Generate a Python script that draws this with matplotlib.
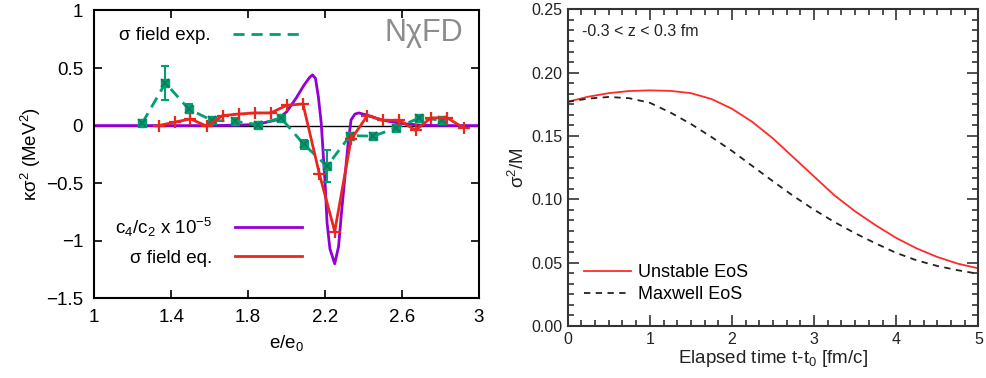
import numpy as np
import matplotlib
matplotlib.use("Agg")
import matplotlib.pyplot as plt
from matplotlib.lines import Line2D
from matplotlib.ticker import FixedLocator, FuncFormatter, FormatStrFormatter, AutoMinorLocator

plt.rcParams['font.family'] = ['Liberation Sans', 'DejaVu Sans']
plt.rcParams['mathtext.default'] = 'regular'

# ---- left panel data ----
# sigma field exp. (green, with error bars)
exp_x = [1.25, 1.37, 1.49, 1.61, 1.73, 1.85, 1.97, 2.09, 2.21, 2.33, 2.45, 2.57, 2.69, 2.81]
exp_y = [0.023, 0.37, 0.145, 0.046, 0.037, 0.009, 0.067, -0.164, -0.352, -0.087, -0.092, -0.02, 0.067, 0.046]
exp_err = [0.02, 0.15, 0.04, 0.02, 0.02, 0.02, 0.02, 0.04, 0.14, 0.02, 0.02, 0.02, 0.02, 0.02]

# sigma field eq. (red)
eq_x = [1.335, 1.418, 1.5, 1.585, 1.668, 1.75, 1.835, 1.918, 2.0, 2.085,
        2.17, 2.25, 2.335, 2.42, 2.5, 2.585, 2.67, 2.75, 2.835, 2.92]
eq_y = [0.0, 0.03, 0.058, -0.005, 0.087, 0.1, 0.11, 0.11, 0.176, 0.188,
        -0.418, -0.92, -0.12, 0.087, 0.046, 0.046, -0.04, 0.067, 0.067, -0.02]

# c4/c2 x 1e-5 (purple)
c4_x = [1.0, 1.6, 1.75, 1.85, 1.95, 2.0, 2.05, 2.09, 2.12, 2.135, 2.15, 2.165, 2.18,
        2.2, 2.21, 2.225, 2.25, 2.27, 2.285, 2.3, 2.32, 2.335, 2.355, 2.375,
        2.42, 2.5, 2.6, 2.7, 2.8, 3.0]
c4_y = [0.0, 0.0, 0.003, 0.012, 0.05, 0.12, 0.24, 0.35, 0.42, 0.44, 0.41, 0.25, 0.02,
        -0.5, -0.84, -1.07, -1.2, -1.05, -0.76, -0.5, -0.15, 0.05, 0.1, 0.11,
        0.09, 0.046, 0.018, 0.003, 0.0, 0.0]

left_xticks = [1, 1.4, 1.8, 2.2, 2.6, 3]
left_yticks = [-1.5, -1, -0.5, 0, 0.5, 1]

# ---- right panel data ----
t = [0, 0.25, 0.5, 0.75, 1.0, 1.25, 1.5, 1.75, 2.0, 2.25, 2.5, 2.75, 3.0,
     3.25, 3.5, 3.75, 4.0, 4.25, 4.5, 4.75, 5.0]
unstable = [0.177, 0.181, 0.1838, 0.1855, 0.186, 0.1856, 0.1838, 0.1792, 0.1715, 0.161, 0.148,
            0.133, 0.118, 0.103, 0.0905, 0.0795, 0.0695, 0.0612, 0.0545, 0.0492, 0.0455]
maxwell = [0.177, 0.1795, 0.1808, 0.1798, 0.1762, 0.1685, 0.1595, 0.1492, 0.1382, 0.1262, 0.1142,
           0.1025, 0.0918, 0.082, 0.0732, 0.0652, 0.0577, 0.0518, 0.0474, 0.044, 0.0412]

green = '#009e73'
red = '#e8281e'
purple = '#9400d3'

fig = plt.figure(figsize=(9.87, 3.78), dpi=100)

# ================= left =================
ax = fig.add_axes([0.0955, 0.2108, 0.3898, 0.7616])
ax.axhline(0, color='black', lw=1, zorder=1)
ax.plot(c4_x, c4_y, color=purple, lw=2, zorder=2)
ax.plot(eq_x, eq_y, color=red, lw=2, marker='+', ms=8, mew=1.6, zorder=4)
ax.errorbar(exp_x, exp_y, yerr=exp_err, color=green, lw=2, ls=(0, (4, 2.5)),
            marker='s', ms=5.5, capsize=3, capthick=1.5, elinewidth=1.5, zorder=3)
ax.plot(exp_x, exp_y, ls='none', marker='x', ms=5.5, mew=1.2, color='#0a7a5a', zorder=3.5)

h_exp = Line2D([], [], color=green, lw=2, ls=(0, (4, 2.5)))
h_c4 = Line2D([], [], color=purple, lw=2)
h_eq = Line2D([], [], color=red, lw=2)

ax.set_xlim(1, 3)
ax.set_ylim(-1.5, 1)
ax.xaxis.set_major_locator(FixedLocator(left_xticks))
ax.yaxis.set_major_locator(FixedLocator(left_yticks))
fmt = FuncFormatter(lambda v, p: ('%g' % v).replace('-', '\u2212'))
ax.xaxis.set_major_formatter(fmt)
ax.yaxis.set_major_formatter(fmt)
ax.tick_params(direction='in', top=True, right=True, length=6, width=1.2,
               labelsize=13.5, pad=8)
for s in ax.spines.values():
    s.set_linewidth(1.5)
ax.set_xlabel('e/e$_0$', fontsize=13.5, labelpad=5)
ax.set_ylabel('κσ$^2$ (MeV$^2$)', fontsize=13.5, labelpad=2)

leg1 = ax.legend([h_exp], ['σ field exp.'], loc='upper left', bbox_to_anchor=(0.02, 1.0),
                 frameon=False, markerfirst=False, fontsize=13.5, handlelength=3.6,
                 handletextpad=1.2)
ax.add_artist(leg1)
ax.legend([h_c4, h_eq], ['c$_4$/c$_2$ x 10$^{-5}$', 'σ field eq.'], loc='lower left',
          bbox_to_anchor=(0.01, 0.05), frameon=False, markerfirst=False, fontsize=13.5,
          handlelength=3.6, handletextpad=1.2, labelspacing=0.6)
ax.text(0.96, 0.92, 'NχFD', transform=ax.transAxes, ha='right', va='center',
        fontsize=22, color='#8c8c8c')

# ================= right =================
ax2 = fig.add_axes([0.5752, 0.1376, 0.416, 0.8378])
ax2.plot(t, unstable, color='#ff2a2a', lw=1.3, label='Unstable EoS')
ax2.plot(t, maxwell, color='#222222', lw=1.3, ls=(0, (3.5, 3)), label='Maxwell EoS')
ax2.set_xlim(0, 5)
ax2.set_ylim(0, 0.25)
ax2.set_yticks([0, 0.05, 0.10, 0.15, 0.20, 0.25])
ax2.set_xticks([0, 1, 2, 3, 4, 5])
ax2.yaxis.set_major_formatter(FormatStrFormatter('%.2f'))
ax2.xaxis.set_minor_locator(AutoMinorLocator(6))
ax2.yaxis.set_minor_locator(AutoMinorLocator(6))
ax2.tick_params(which='both', direction='in', top=True, right=True, color='#333333',
                width=1.2, labelsize=11.5, labelcolor='#222222')
ax2.tick_params(which='major', length=8, pad=4)
ax2.tick_params(which='minor', length=4)
for s in ax2.spines.values():
    s.set_linewidth(1.5)
    s.set_color('#333333')
ax2.set_xlabel('Elapsed time t-t$_0$ [fm/c]', fontsize=13.5, labelpad=1, color='#222222')
ax2.set_ylabel('σ$^2$/M', fontsize=13.5, labelpad=2, color='#222222')
ax2.text(0.035, 0.93, '-0.3 < z < 0.3 fm', transform=ax2.transAxes, fontsize=11.5,
         va='center', color='#222222')
ax2.legend(loc='lower left', bbox_to_anchor=(0.0, 0.02), frameon=False, fontsize=13,
           handlelength=2.6, handletextpad=0.4, labelspacing=0.3)

fig.savefig('out.png', dpi=100)
